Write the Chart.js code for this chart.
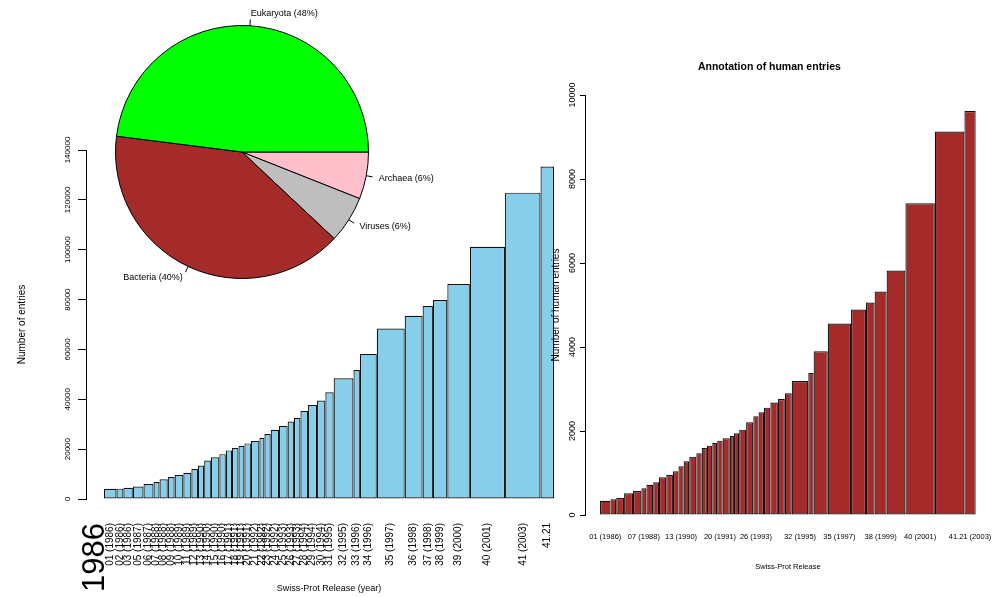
<!DOCTYPE html>
<html>
<head>
<meta charset="utf-8">
<script src="https://cdn.jsdelivr.net/npm/chart.js@4/dist/chart.umd.min.js"></script>
<style>
  html, body { margin: 0; padding: 0; background: #fff; }
  #stage { position: relative; width: 995px; height: 597px; overflow: hidden; background: #fff; }
  canvas { position: absolute; }
  #allChart { left: 0; top: 0; }
  #humanChart { left: 548px; top: 0; }
  #pieChart { left: 42px; top: 2px; }
</style>
</head>
<body>
<div id="stage">
  <canvas id="allChart" width="590" height="597"></canvas>
  <canvas id="humanChart" width="447" height="597"></canvas>
  <canvas id="pieChart" width="400" height="300"></canvas>
</div>
<script>
// Swiss-Prot releases, one bar each; bar width = relative span of the release
const releaseLabels = [
  '01 (1986)', '02 (1986)', '03 (1986)', '05 (1987)', '06 (1987)', '07 (1988)', '08 (1988)',
  '09 (1988)', '10 (1989)', '11 (1989)', '12 (1989)', '13 (1990)', '14 (1990)', '15 (1990)',
  '16 (1990)', '17 (1991)', '18 (1991)', '19 (1991)', '20 (1991)', '21 (1992)', '22 (1992)',
  '23 (1992)', '24 (1992)', '25 (1993)', '26 (1993)', '27 (1993)', '28 (1994)', '29 (1994)',
  '30 (1994)', '31 (1995)', '32 (1995)', '33 (1996)', '34 (1996)', '35 (1997)', '36 (1998)',
  '37 (1998)', '38 (1999)', '39 (2000)', '40 (2001)', '41 (2003)', '41.21 (2003)'
];
const releaseSpans = [
  12.5, 6.9, 9.4, 10.7, 10.0, 6.0, 8.2, 6.9, 8.7, 8.0, 6.6, 6.2, 6.7, 8.5, 6.4, 6.2, 6.5, 5.9,
  6.5, 8.5, 5.0, 6.3, 8.3, 8.6, 6.3, 6.5, 7.6, 9.0, 8.3, 8.3, 19.8, 6.4, 16.9, 27.9, 17.9,
  10.3, 14.4, 22.5, 35.2, 35.4, 13.5
];
// Number of entries per release
const totalEntries = [
  4100, 4150, 4500, 5000, 6000, 6800, 7900, 8800, 9600, 10500,
  12000, 13400, 15400, 16700, 18000, 19500, 20500, 21300, 22300, 23300,
  24600, 26100, 27800, 29400, 31100, 32600, 35300, 37700, 39500, 42800,
  48400, 51700, 58200, 68400, 73500, 77400, 79800, 86200, 101200, 122900, 133400
];
// Number of human entries per release
const humanEntries = [
  340, 373, 405, 516, 571, 635, 722, 778, 897, 952,
  1040, 1159, 1278, 1389, 1468, 1595, 1651, 1714, 1770, 1825,
  1881, 1944, 2032, 2206, 2349, 2444, 2556, 2680, 2760, 2900,
  3190, 3380, 3900, 4560, 4890, 5060, 5320, 5820, 7420, 9130, 9620
];
const firstYearLabel = '1986';
const humanAxisLabels = [
  '01 (1986)', '07 (1988)', '13 (1990)', '20 (1991)', '26 (1993)',
  '32 (1995)', '35 (1997)', '38 (1999)', '40 (2001)', '41.21 (2003)'
];
// Taxonomic distribution
const kingdoms = ['Eukaryota', 'Bacteria', 'Viruses', 'Archaea'];
const kingdomShare = [48, 40, 6, 6];
const kingdomColors = ['#00FF00', '#A52A2A', '#BEBEBE', '#FFC0CB'];

const FONT = "'Liberation Sans', Arial, Helvetica, sans-serif";
Chart.defaults.font.family = FONT;
Chart.defaults.color = '#000';

// Bar edges from the cumulative spans
const edges = [0];
releaseSpans.forEach(w => edges.push(edges[edges.length - 1] + w));
const centers = releaseSpans.map((w, i) => edges[i] + w / 2);
const spanTotal = edges[edges.length - 1];
const pad = spanTotal * 0.04;
const lastIdx = releaseSpans.length - 1;
const leftAxisLabels = releaseLabels.map((t, i) => (i === lastIdx ? t.split(' ')[0] : t));

function spanData(values) {
  return values.map((v, i) => ({ x: centers[i], y: v, x0: edges[i], x1: edges[i + 1] }));
}
function textWidth(str, size) {
  const c = document.createElement('canvas').getContext('2d');
  c.font = size + 'px ' + FONT;
  return c.measureText(str).width;
}

// Bar controller whose bars run from x0 to x1 on a linear index scale
class SpanBarController extends Chart.BarController {
  _calculateBarIndexPixels(index) {
    const scale = this._cachedMeta.iScale;
    const d = this.getDataset().data[index];
    const a = scale.getPixelForValue(d.x0);
    const b = scale.getPixelForValue(d.x1);
    return { base: a, head: b, center: (a + b) / 2, size: b - a };
  }
}
SpanBarController.id = 'spanbar';
SpanBarController.defaults = Chart.BarController.defaults;
Chart.register(SpanBarController);

const leftYPad = 10.5 - textWidth('140000', 8) / 2;
const rightYPad = 7 - textWidth('10000', 9) / 2;

// All entries
new Chart(document.getElementById('allChart'), {
  type: 'spanbar',
  data: {
    datasets: [{
      data: spanData(totalEntries),
      backgroundColor: '#87CEEB',
      borderColor: '#111',
      borderWidth: 1.2,
      borderSkipped: false,
      inflateAmount: 0
    }]
  },
  options: {
    responsive: false, animation: false, events: [],
    layout: { padding: { top: 150, right: 18, bottom: 0, left: 0 } },
    plugins: { legend: { display: false }, tooltip: { enabled: false } },
    scales: {
      x: {
        type: 'linear', min: -pad, max: spanTotal + pad, offset: false,
        grid: { display: true, drawOnChartArea: false, drawTicks: true, tickLength: 24, color: 'rgba(0,0,0,0)', offset: false },
        border: { display: false },
        afterBuildTicks: s => { s.ticks = [{ value: -pad / 2 }].concat(centers.map(v => ({ value: v }))); },
        ticks: {
          autoSkip: false, minRotation: 90, maxRotation: 90, padding: 0, color: '#000',
          callback: (v, i) => (i === 0 ? firstYearLabel : leftAxisLabels[i - 1]),
          font: ctx => (ctx.index === 0 ? { size: 31 } : { size: 10 })
        },
        title: { display: true, text: 'Swiss-Prot Release (year)', color: '#000', font: { size: 9 }, padding: { top: 0, bottom: 2.6 } },
        afterFit: s => { s.height = 98; }
      },
      y: {
        type: 'linear', min: 0, max: 140000,
        ticks: { stepSize: 20000, minRotation: 90, maxRotation: 90, crossAlign: 'center', padding: leftYPad,
                 font: { size: 8 }, color: '#000', callback: v => String(v) },
        grid: { drawOnChartArea: false, drawTicks: true, tickLength: 8, color: '#000', lineWidth: 1 },
        border: { display: true, color: '#000', width: 1 },
        title: { display: true, text: 'Number of entries', color: '#000', font: { size: 10 }, padding: { top: 16.5, bottom: 0 } },
        afterFit: s => { s.width = 86; }
      }
    }
  }
});

// Human entries
new Chart(document.getElementById('humanChart'), {
  type: 'spanbar',
  data: {
    datasets: [{
      data: spanData(humanEntries),
      backgroundColor: '#A52A2A',
      borderColor: '#111',
      borderWidth: 1.2,
      borderSkipped: false,
      inflateAmount: 0
    }]
  },
  options: {
    responsive: false, animation: false, events: [],
    layout: { padding: { top: 0, right: 4.3, bottom: 0, left: 0 } },
    plugins: {
      legend: { display: false }, tooltip: { enabled: false },
      title: { display: true, text: 'Annotation of human entries', color: '#000',
               font: { size: 10.5, weight: 'bold' }, padding: { top: 61, bottom: 21.4 } }
    },
    scales: {
      x: {
        type: 'linear', min: -pad, max: spanTotal + pad, offset: false,
        grid: { display: true, drawOnChartArea: false, drawTicks: true, tickLength: 17.5, color: 'rgba(0,0,0,0)', offset: false },
        border: { display: false },
        afterBuildTicks: s => { s.ticks = humanAxisLabels.map(l => ({ value: centers[releaseLabels.indexOf(l)] })); },
        ticks: { autoSkip: false, minRotation: 0, maxRotation: 0, padding: 0, color: '#000', font: { size: 7.5 },
                 callback: (v, i) => humanAxisLabels[i] },
        title: { display: true, text: 'Swiss-Prot Release', color: '#000', font: { size: 7.5 }, padding: { top: 0, bottom: 25.5 } },
        afterFit: s => { s.height = 82; }
      },
      y: {
        type: 'linear', min: 0, max: 10000,
        ticks: { stepSize: 2000, minRotation: 90, maxRotation: 90, crossAlign: 'center', padding: rightYPad,
                 font: { size: 9 }, color: '#000', callback: v => String(v) },
        grid: { drawOnChartArea: false, drawTicks: true, tickLength: 5, color: '#000', lineWidth: 1 },
        border: { display: true, color: '#000', width: 1 },
        title: { display: true, text: 'Number of human entries', color: '#000', font: { size: 10 }, padding: { top: 2, bottom: 0 } },
        afterFit: s => { s.width = 37; }
      }
    }
  }
});

// Slice labels with short leader lines
const pieLabelPlugin = {
  id: 'pieLabels',
  afterDatasetsDraw(chart) {
    const ctx = chart.ctx;
    const meta = chart.getDatasetMeta(0);
    const names = chart.data.labels;
    const vals = chart.data.datasets[0].data;
    ctx.save();
    ctx.font = '9px ' + FONT;
    ctx.fillStyle = '#000';
    ctx.strokeStyle = '#000';
    ctx.lineWidth = 1;
    ctx.textBaseline = 'middle';
    meta.data.forEach((arc, i) => {
      const p = arc.getProps(['x', 'y', 'startAngle', 'endAngle', 'outerRadius'], true);
      const mid = (p.startAngle + p.endAngle) / 2;
      const c = Math.cos(mid), s = Math.sin(mid), r = p.outerRadius;
      ctx.beginPath();
      ctx.moveTo(p.x + c * r, p.y + s * r);
      ctx.lineTo(p.x + 1.05 * c * r, p.y + 1.05 * s * r);
      ctx.stroke();
      ctx.textAlign = c < 0 ? 'right' : 'left';
      ctx.fillText(names[i] + ' (' + vals[i] + '%)', p.x + 1.1 * c * r, p.y + 1.1 * s * r);
    });
    ctx.restore();
  }
};

// Slices run counter-clockwise from three o'clock, so feed them in reverse
new Chart(document.getElementById('pieChart'), {
  type: 'pie',
  data: {
    labels: kingdoms.slice().reverse(),
    datasets: [{
      data: kingdomShare.slice().reverse(),
      backgroundColor: kingdomColors.slice().reverse(),
      borderColor: '#000',
      borderWidth: 1
    }]
  },
  options: {
    responsive: false, animation: false, events: [],
    rotation: 90, radius: 126.5,
    layout: { padding: 0 },
    plugins: { legend: { display: false }, tooltip: { enabled: false } }
  },
  plugins: [pieLabelPlugin]
});
</script>
</body>
</html>
